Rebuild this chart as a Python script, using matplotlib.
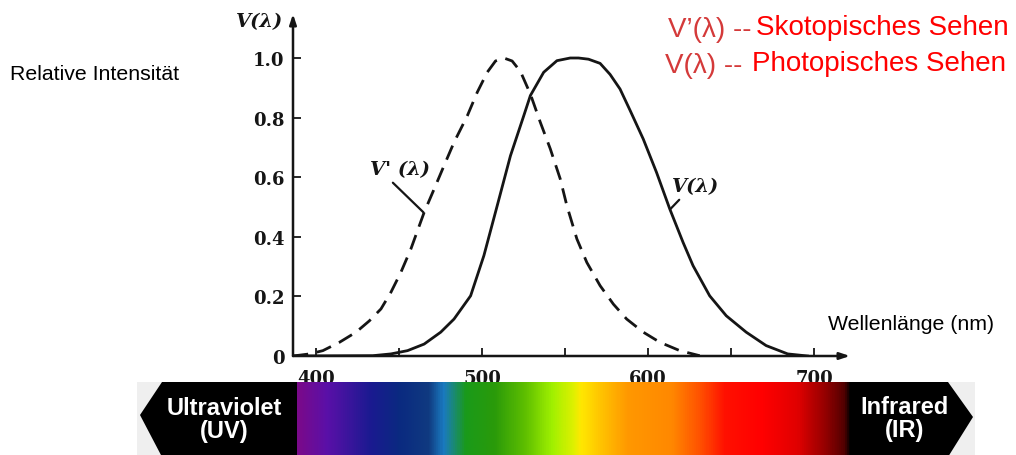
import numpy as np
import matplotlib
matplotlib.use("Agg")
import matplotlib.pyplot as plt
from matplotlib.colors import LinearSegmentedColormap
from matplotlib.patches import Polygon, Rectangle

# ---- data ----
scot_nm = [386, 396, 404, 414, 424, 432, 439, 445, 451, 457, 465, 471, 477, 483, 491, 497,
           503, 508, 513, 518, 523, 529, 535, 541, 547, 551, 557, 563, 571, 579, 587, 597,
           607, 619, 631]
scot_v  = [0.0, 0.007, 0.018, 0.046, 0.08, 0.118, 0.158, 0.214, 0.281, 0.359, 0.482, 0.56,
           0.639, 0.717, 0.806, 0.885, 0.952, 0.99, 1.0, 0.99, 0.955, 0.879, 0.784, 0.695,
           0.594, 0.504, 0.393, 0.314, 0.236, 0.174, 0.124, 0.08, 0.046, 0.018, 0.001]
phot_nm = [386, 434, 445, 455, 465, 475, 483, 493, 501, 509, 517, 525, 529, 537, 545, 553,
           558, 564, 571, 577, 583, 589, 597, 605, 613, 621, 627, 637, 647, 659, 671, 684, 696]
phot_v  = [0.0, 0.001, 0.007, 0.018, 0.04, 0.08, 0.124, 0.202, 0.337, 0.504, 0.672, 0.806,
           0.874, 0.952, 0.991, 1.0, 1.0, 0.996, 0.982, 0.945, 0.896, 0.825, 0.728, 0.616,
           0.493, 0.381, 0.303, 0.202, 0.135, 0.08, 0.035, 0.007, 0.0]
x_ticks = [400, 500, 600, 700]
x_minor = [450, 550, 650]
y_ticks = [0, 0.2, 0.4, 0.6, 0.8, 1.0]
y_ticklabels = ["0", "0.2", "0.4", "0.6", "0.8", "1.0"]

W, H = 1016, 456
fig = plt.figure(figsize=(W / 100, H / 100), dpi=100)
fig.patch.set_facecolor("white")

def fx(px):
    return px / W

def fy(py):
    return 1 - py / H

serif = "DejaVu Serif"
sans = "Liberation Sans"
ink = "#151515"

# main axes
ax = fig.add_axes([fx(293), fy(357), fx(850) - fx(293), fy(15) - fy(357)])
ax.set_xlim(386, 386 + 557 / 1.66)
ax.set_ylim(0, 342 / 298)
for s in ax.spines.values():
    s.set_visible(False)
ax.patch.set_alpha(0)

ax.plot(scot_nm, scot_v, color=ink, lw=2.0, dashes=(5.5, 3.2), solid_capstyle="butt",
        solid_joinstyle="round")
ax.plot(phot_nm, phot_v, color=ink, lw=2.0, solid_joinstyle="round")

# axes with arrows
for xy in [(1, 0), (0, 1)]:
    ax.annotate("", xy=xy, xytext=(0, 0), xycoords="axes fraction",
                arrowprops=dict(arrowstyle="-|>,head_length=0.6,head_width=0.2", lw=1.8,
                                color=ink, shrinkA=0, shrinkB=0))

ax.set_xticks(x_ticks)
ax.set_xticks(x_minor, minor=True)
ax.set_xticklabels([str(v) for v in x_ticks])
ax.set_yticks(y_ticks)
ax.set_yticklabels(y_ticklabels)
ax.tick_params(axis="both", which="both", direction="in", length=6, width=1.3, color=ink)
ax.tick_params(axis="x", pad=9)
ax.tick_params(axis="y", pad=6)
for lab in ax.get_xticklabels() + ax.get_yticklabels():
    lab.set_fontfamily(serif)
    lab.set_fontweight("bold")
    lab.set_fontsize(13)
    lab.set_color(ink)

# curve labels
ax.annotate("V' (λ)", xy=(464.6, 0.482), xytext=(386 + (370 - 293) / 1.66, (357 - 170) / 298),
            textcoords="data", fontsize=14, fontfamily=serif, fontweight="bold", fontstyle="italic",
            va="center", ha="left", color=ink,
            arrowprops=dict(arrowstyle="-", lw=1.6, color=ink, shrinkA=2, shrinkB=0,
                            relpos=(0.3, 0)))
ax.annotate("V(λ)", xy=(613.3, 0.493), xytext=(386 + (672 - 293) / 1.66, (357 - 187) / 298),
            textcoords="data", fontsize=14, fontfamily=serif, fontweight="bold", fontstyle="italic",
            va="center", ha="left", color=ink,
            arrowprops=dict(arrowstyle="-", lw=1.6, color=ink, shrinkA=2, shrinkB=0,
                            relpos=(0.25, 0)))

# y label at top of axis
fig.text(fx(236), fy(22), "V(λ)", fontsize=14, fontfamily=serif, fontweight="bold",
         fontstyle="italic", va="center", ha="left", color=ink)

# other labels
fig.text(fx(10), fy(75), "Relative Intensität", fontsize=15.3, fontfamily=sans,
         va="center", ha="left", color="black")
fig.text(fx(828), fy(325), "Wellenlänge (nm)", fontsize=15.3, fontfamily=sans,
         va="center", ha="left", color="black")

fig.text(fx(751), fy(30), "V’(λ) --", fontsize=20, fontfamily=sans, va="center", ha="right",
         color="#d43a3a")
fig.text(fx(756), fy(28), "Skotopisches Sehen", fontsize=20, fontfamily=sans, va="center",
         ha="left", color="#ff0000")
fig.text(fx(742), fy(66), "V(λ) --", fontsize=20, fontfamily=sans, va="center", ha="right",
         color="#d43a3a")
fig.text(fx(752), fy(64), "Photopisches Sehen", fontsize=20, fontfamily=sans, va="center",
         ha="left", color="#ff0000")

# spectrum bar (overlay in pixel coordinates)
bx = fig.add_axes([0, 0, 1, 1])
bx.axis("off")
bx.patch.set_alpha(0)

bx.add_patch(Rectangle((137, 383), 975 - 137, 456 - 383, facecolor="#efefef", edgecolor="none",
                       zorder=1))
bx.add_patch(Polygon([(140, 416), (162, 383), (948, 383), (973, 418), (948, 458), (162, 458)],
                     closed=True, facecolor="black", edgecolor="none", zorder=2))

stops = [(297, "#7a0a8a"), (326, "#5a10a8"), (370, "#1a1a90"), (399, "#0a2a80"), (428, "#103a80"),
         (443, "#1a7ac0"), (454, "#1a8a70"), (465, "#1a9a1a"), (494, "#2a9a0a"), (526, "#60c000"),
         (552, "#a0f000"), (574, "#e0f000"), (581, "#ffe800"), (603, "#ffc000"), (628, "#ff9800"),
         (672, "#ff8800"), (701, "#ff5000"), (726, "#ff1000"), (763, "#ff0000"), (799, "#e00000"),
         (828, "#900000"), (846, "#500000"), (852, "#000000")]
x0, x1 = stops[0][0], stops[-1][0]
cmap = LinearSegmentedColormap.from_list(
    "spec", [((p - x0) / (x1 - x0), c) for p, c in stops])
grad = np.linspace(0, 1, 800).reshape(1, -1)
bx.imshow(grad, cmap=cmap, aspect="auto", extent=(x0, x1, 458, 384), interpolation="bilinear",
          zorder=3)
bx.set_xlim(0, W)
bx.set_ylim(H, 0)

bx.text(224, 420, "Ultraviolet\n(UV)", color="white", fontsize=17, fontweight="bold",
        fontfamily=sans, ha="center", va="center", linespacing=0.95, zorder=5)
bx.text(905, 419, "Infrared\n(IR)", color="white", fontsize=17, fontweight="bold",
        fontfamily=sans, ha="center", va="center", linespacing=0.95, zorder=5)

fig.savefig("out.png", dpi=100)
